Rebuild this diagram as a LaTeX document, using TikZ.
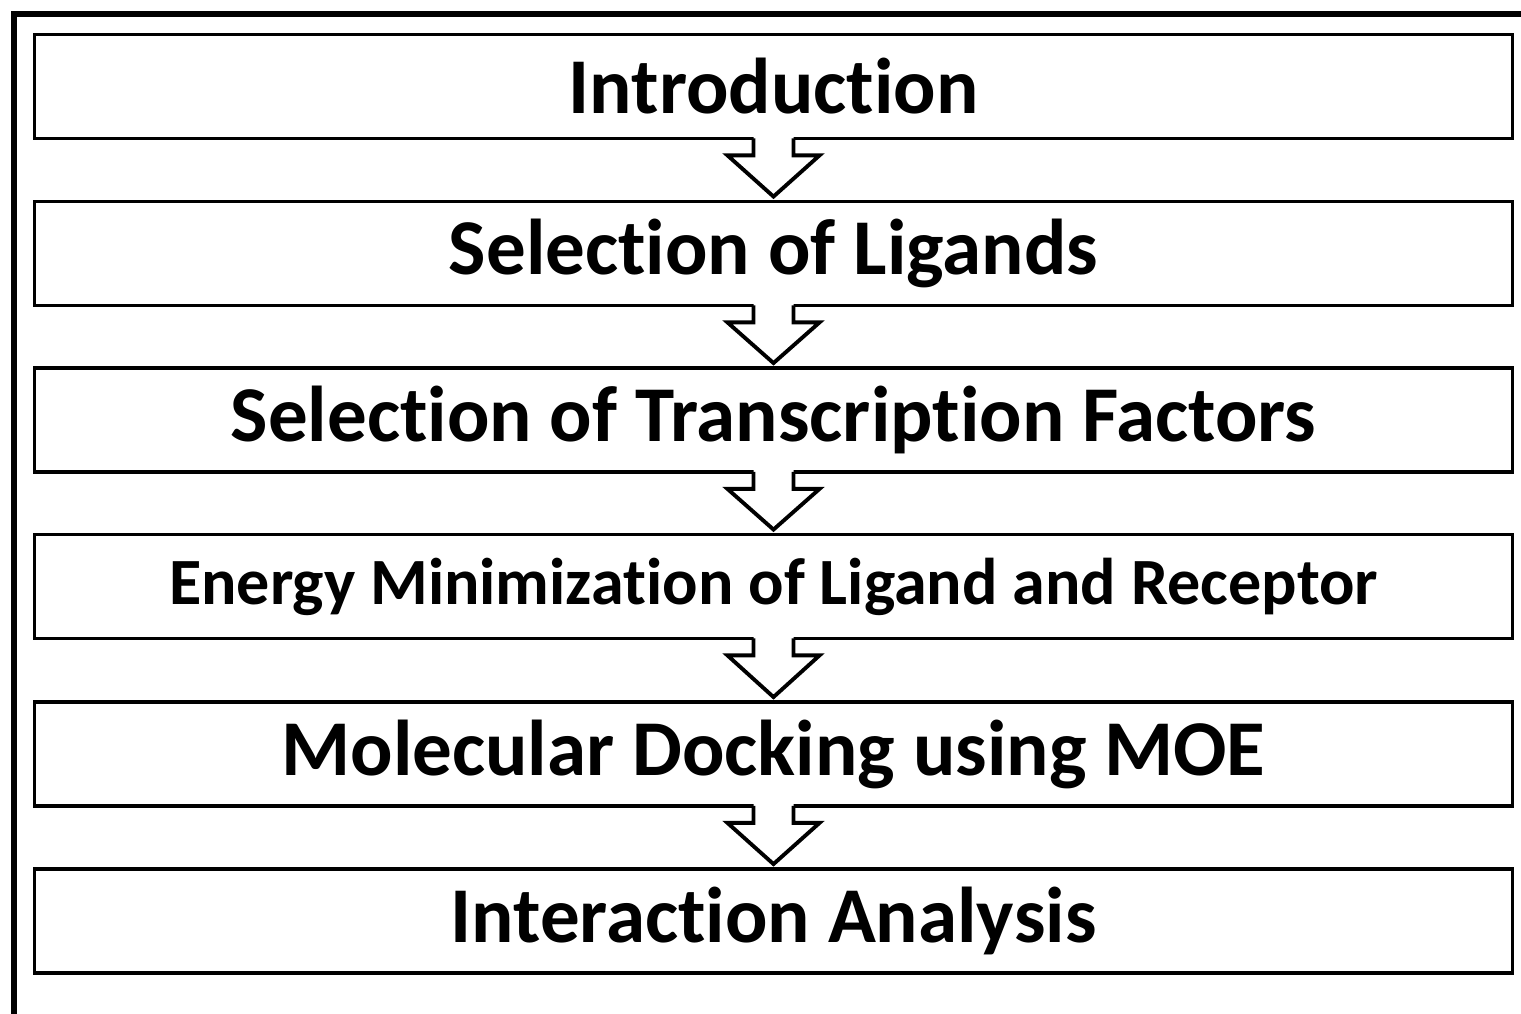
\documentclass[tikz,border=0pt]{standalone}
\usepackage{fontspec}
\setmainfont{Carlito}[Ligatures=NoCommon]
\usetikzlibrary{calc}

% hollow block arrow from the bottom of one box to the top of the next
\newcommand{\stepArrow}[2]{%
  \fill[white] ($(#1.south)+(-0.2,0.04)$) -- ($(#1.south)+(-0.2,-0.15)$)
    -- ($(#1.south)+(-0.46,-0.15)$) -- ($(#2.north)+(0,0.03)$)
    -- ($(#1.south)+(0.46,-0.15)$) -- ($(#1.south)+(0.2,-0.15)$)
    -- ($(#1.south)+(0.2,0.04)$) -- cycle;
  \draw[line width=1.1pt, line join=miter] ($(#1.south)+(-0.2,0.02)$) -- ($(#1.south)+(-0.2,-0.15)$)
    -- ($(#1.south)+(-0.46,-0.15)$) -- ($(#2.north)+(0,0.03)$)
    -- ($(#1.south)+(0.46,-0.15)$) -- ($(#1.south)+(0.2,-0.15)$)
    -- ($(#1.south)+(0.2,0.02)$);
}

\begin{document}
\begin{tikzpicture}[
    every node/.style={font=\bfseries\fontsize{22.5}{27}\selectfont},
    stage/.style={
      rectangle, draw=black, fill=white,
      line width=1.1pt, align=center,
      inner sep=0pt, minimum width=14.78cm, minimum height=1.04cm}
  ]
    \useasboundingbox (0,0) rectangle (15.21,-10.14);
    \draw[line width=1.5pt] (0.14,-10.2) -- (0.14,-0.14) -- (15.3,-0.14);

    \node[stage] (intro) at (7.735, -0.865) {Introduction};
    \node[stage] (lig) at (7.735, -2.535) {Selection of Ligands};
    \node[stage] (tf) at (7.735, -4.2) {Selection of Transcription Factors};
    \node[stage, font=\bfseries\fontsize{18.8}{23}\selectfont] (emin) at (7.735, -5.865)
      {Energy Minimization of Ligand and Receptor};
    \node[stage] (dock) at (7.735, -7.54) {Molecular Docking using MOE};
    \node[stage] (inter) at (7.735, -9.21) {Interaction Analysis};

    \stepArrow{intro}{lig}
    \stepArrow{lig}{tf}
    \stepArrow{tf}{emin}
    \stepArrow{emin}{dock}
    \stepArrow{dock}{inter}
\end{tikzpicture}
\end{document}
